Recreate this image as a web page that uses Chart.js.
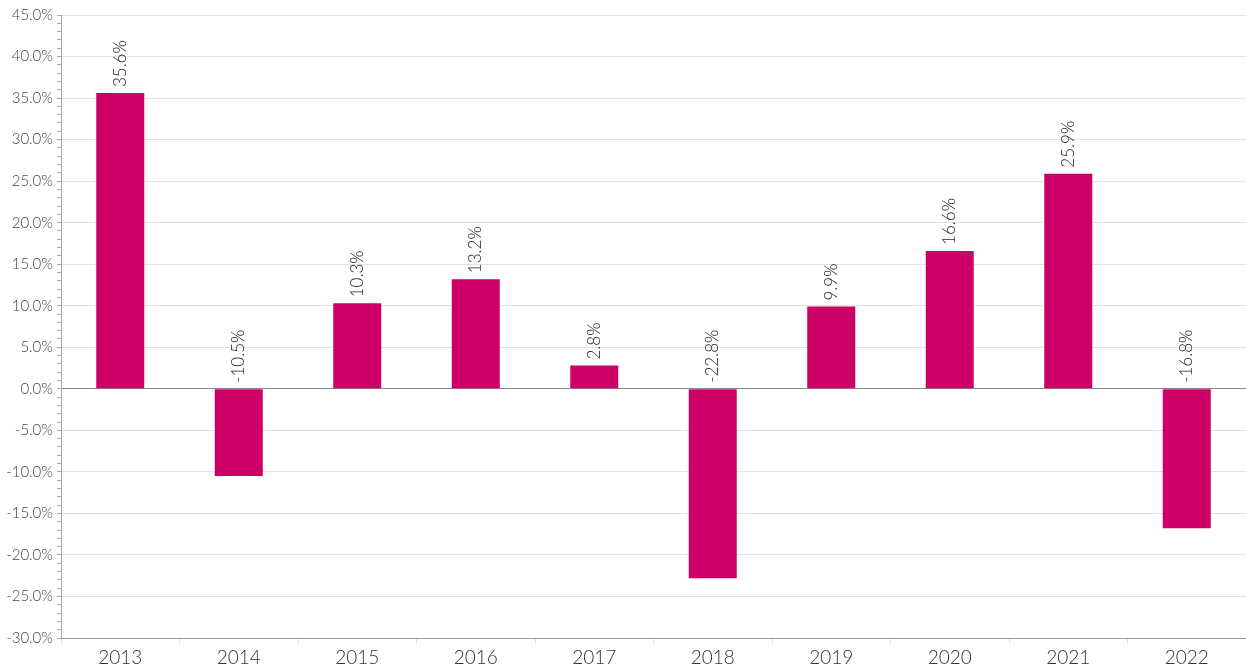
<!DOCTYPE html>
<html>
<head>
<meta charset="utf-8">
<script src="https://cdn.jsdelivr.net/npm/chart.js@4.4.0/dist/chart.umd.min.js"></script>
<style>
  html, body { margin: 0; padding: 0; background: #fff; }
  #wrap { width: 1246px; height: 671px; }
</style>
</head>
<body>
<div id="wrap"><canvas id="chartReturns"></canvas></div>
<script>
const years = ["2013", "2014", "2015", "2016", "2017", "2018", "2019", "2020", "2021", "2022"];
const returns = [35.6, -10.5, 10.3, 13.2, 2.8, -22.8, 9.9, 16.6, 25.9, -16.8];
const yMin = -30;
const yMax = 45;

// rotated value labels, above the bar or above the zero line
const barLabels = {
  id: "barLabels",
  afterDatasetsDraw(chart) {
    const ctx = chart.ctx;
    const meta = chart.getDatasetMeta(0);
    const zeroY = chart.scales.y.getPixelForValue(0);
    ctx.save();
    ctx.fillStyle = "#222";
    ctx.font = "300 17px Lato, 'Open Sans', sans-serif";
    ctx.textAlign = "left";
    ctx.textBaseline = "middle";
    meta.data.forEach((bar, i) => {
      const v = returns[i];
      const base = v >= 0 ? bar.y : zeroY;
      ctx.save();
      ctx.translate(bar.x, base - 6);
      ctx.rotate(-Math.PI / 2);
      ctx.fillText(v.toFixed(1) + "%", 0, 0);
      ctx.restore();
    });
    ctx.restore();
  },
};

document.addEventListener("DOMContentLoaded", () => {
  new Chart(document.querySelector("#chartReturns"), {
    type: "bar",
    data: {
      labels: years,
      datasets: [
        {
          label: "Return",
          data: returns,
          backgroundColor: "#cc0066",
          borderWidth: 0,
          barPercentage: 0.405,
          categoryPercentage: 1,
        },
      ],
    },
    options: {
      responsive: true,
      maintainAspectRatio: false,
      animation: false,
      layout: { padding: { top: 15, right: 0, left: 0, bottom: 0 } },
      scales: {
        x: {
          afterFit: (s) => { s.height = 33; },
          grid: {
            drawOnChartArea: false,
            tickLength: 5,
            tickColor: "#dcdcdc",
          },
          border: { color: "#999" },
          ticks: {
            color: "#333",
            font: { family: "Lato, 'Open Sans', sans-serif", size: 19, weight: 300 },
            padding: 3,
          },
        },
        y: {
          min: yMin,
          max: yMax,
          afterFit: (s) => { s.width = 61; },
          grid: {
            color: (c) => (c.tick.value % 5 === 0 ? (c.tick.value === 0 ? "#888" : "#e2e2e2") : "rgba(0,0,0,0)"),
            tickColor: "#aaa",
            tickLength: 4,
          },
          border: { color: "#aaa" },
          ticks: {
            stepSize: 1,
            autoSkip: false,
            color: "#444",
            padding: 4,
            font: { family: "Lato, 'Open Sans', sans-serif", size: 15, weight: 300 },
            callback: (v) => (v % 5 === 0 ? v.toFixed(1) + "%" : ""),
          },
        },
      },
      plugins: {
        legend: { display: false },
        tooltip: { enabled: false },
      },
    },
    plugins: [barLabels],
  });
});
</script>
</body>
</html>
